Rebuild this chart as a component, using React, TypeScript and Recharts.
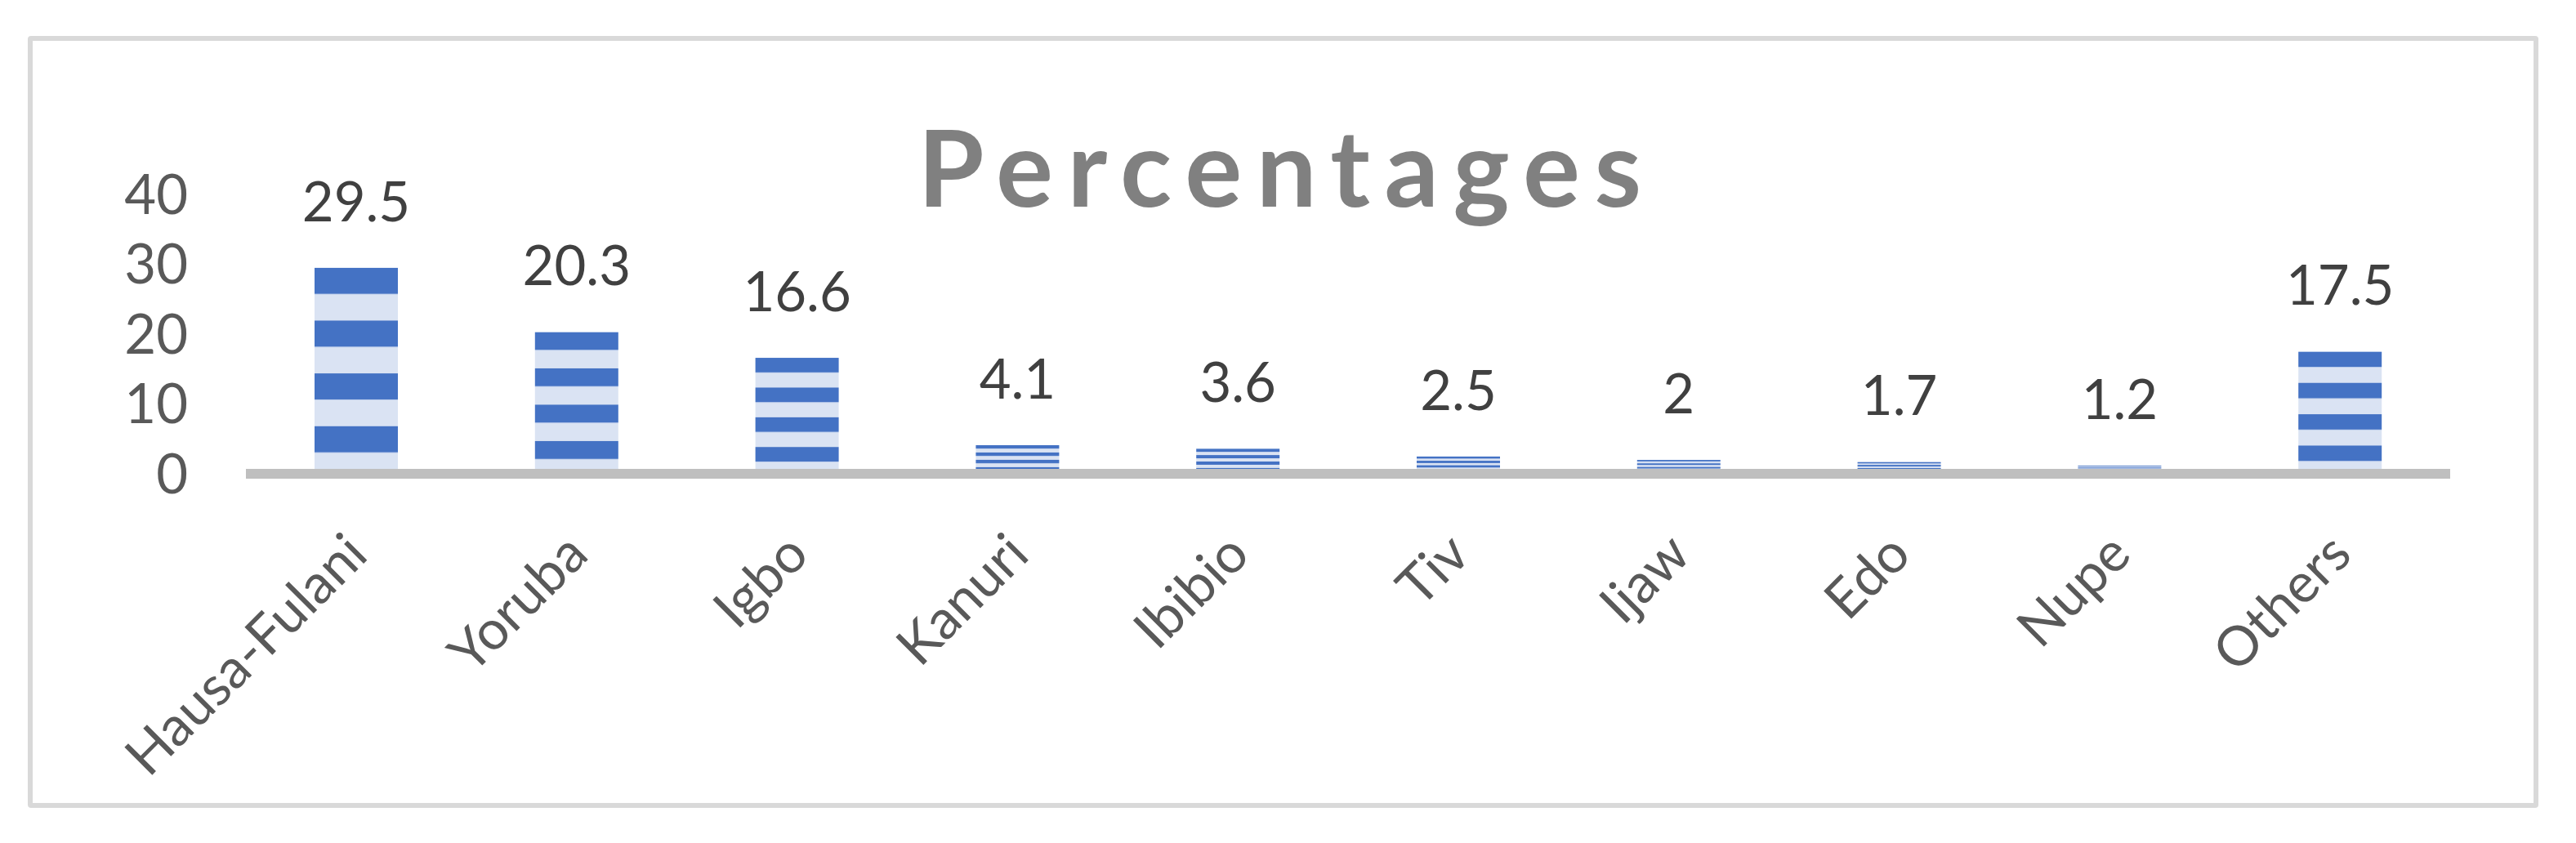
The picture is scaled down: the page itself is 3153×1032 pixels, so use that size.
import { BarChart, Bar, XAxis, YAxis, LabelList } from "recharts"

const groups = ["Hausa-Fulani", "Yoruba", "Igbo", "Kanuri", "Ibibio", "Tiv", "Ijaw", "Edo", "Nupe", "Others"]
const percentages = [29.5, 20.3, 16.6, 4.1, 3.6, 2.5, 2, 1.7, 1.2, 17.5]
const yTicks = [0, 10, 20, 30, 40]

const data = groups.map((name, i) => ({ name, value: percentages[i] }))

const font = "Lato, 'Open Sans', sans-serif"

// rotated category label, end of the text sits under the bar centre
function GroupTick(props: any) {
  const { x, y, payload } = props
  return (
    <text
      x={x}
      y={y}
      dy="0.36em"
      textAnchor="end"
      transform={`rotate(-45 ${x} ${y})`}
      fill="#595959"
      fontSize={67}
      fontFamily={font}
    >
      {payload.value}
    </text>
  )
}

export default function App() {
  return (
    <div style={{ position: "absolute", left: 0, top: 0, width: 3153, height: 1032, background: "#fff" }}>
      <div
        style={{
          position: "absolute",
          left: 34,
          top: 44,
          width: 3073,
          height: 945,
          border: "6px solid #d9d9d9",
          boxSizing: "border-box",
          borderRadius: 4,
        }}
      />
      <div style={{ position: "absolute", left: 0, top: 0 }}>
        <BarChart
          width={3153}
          height={1032}
          data={data}
          margin={{ top: 238, right: 154, bottom: 152, left: 101 }}
        >
          <defs>
            <pattern id="hstripes" patternUnits="objectBoundingBox" patternContentUnits="objectBoundingBox" width="1" height="0.2564">
              <rect x="0" y="0" width="1" height="0.1282" fill="#4472c4" />
              <rect x="0" y="0.1282" width="1" height="0.1282" fill="#dae3f3" />
            </pattern>
          </defs>
          <XAxis
            dataKey="name"
            interval={0}
            height={300}
            tickSize={0}
            tickMargin={85}
            tickLine={false}
            axisLine={{ stroke: "#bfbfbf", strokeWidth: 12 }}
            tick={<GroupTick />}
          />
          <YAxis
            domain={[0, 40]}
            ticks={yTicks}
            width={200}
            axisLine={false}
            tickLine={false}
            tickSize={0}
            tickMargin={71}
            tick={{ fill: "#595959", fontSize: 67, fontFamily: font }}
          />
          <Bar dataKey="value" fill="url(#hstripes)" barSize={102} isAnimationActive={false}>
            <LabelList
              dataKey="value"
              position="top"
              offset={57}
              fill="#404040"
              fontSize={67}
              fontFamily={font}
            />
          </Bar>
        </BarChart>
      </div>
      <svg
        width={3153}
        height={1032}
        style={{ position: "absolute", left: 0, top: 0, pointerEvents: "none" }}
      >
        <text
          x={1575}
          y={253}
          textAnchor="middle"
          fontSize={131}
          fontWeight={700}
          fontFamily={font}
          letterSpacing={17.5}
          fill="#808080"
        >
          Percentages
        </text>
      </svg>
    </div>
  )
}
